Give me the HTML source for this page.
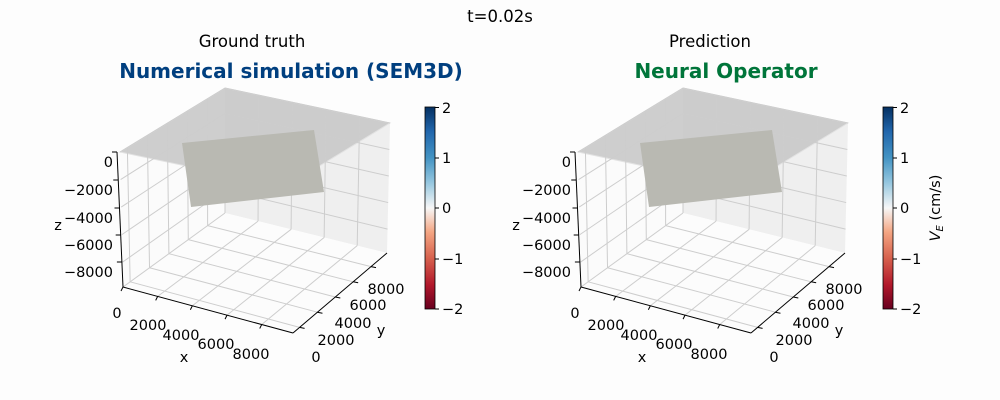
<!DOCTYPE html>
<html><head><meta charset="utf-8"><style>
body{margin:0;background:#fdfdfd;}
svg{display:block;font-family:"DejaVu Sans","Liberation Sans",sans-serif;}
</style></head><body>
<svg id="s" width="1000" height="400" viewBox="0 0 1000 400" xmlns="http://www.w3.org/2000/svg">
<defs>
<linearGradient id="cb" x1="0" y1="0" x2="0" y2="1">
<stop offset="0" stop-color="#053061"/><stop offset="0.12" stop-color="#2166ac"/>
<stop offset="0.25" stop-color="#4393c3"/><stop offset="0.37" stop-color="#92c5de"/>
<stop offset="0.5" stop-color="#f7f7f7"/><stop offset="0.62" stop-color="#f4a582"/>
<stop offset="0.75" stop-color="#d6604d"/><stop offset="0.88" stop-color="#b2182b"/>
<stop offset="1" stop-color="#67001f"/>
</linearGradient>
</defs>
<rect width="1000" height="400" fill="#fdfdfd"/>
<text x="500" y="22" font-size="16.5" text-anchor="middle">t=0.02s</text>
<text x="252" y="47" font-size="16.5" text-anchor="middle">Ground truth</text>
<text x="291" y="78" font-size="20" font-weight="bold" fill="#003f7f" text-anchor="middle">Numerical simulation (SEM3D)</text>
<text x="710" y="47" font-size="16.5" text-anchor="middle">Prediction</text>
<text x="726" y="78" font-size="20" font-weight="bold" fill="#00753a" text-anchor="middle">Neural Operator</text>
<g id="p0"></g>
<g id="p1" transform="translate(458,0)"></g>
<g font-size="14.5">
<rect x="425" y="107" width="10" height="202" fill="url(#cb)" stroke="#000" stroke-width="0.8"/>
<g stroke="#000"><line x1="435" y1="107.5" x2="439" y2="107.5"/><line x1="435" y1="158" x2="439" y2="158"/><line x1="435" y1="208" x2="439" y2="208"/><line x1="435" y1="259" x2="439" y2="259"/><line x1="435" y1="309" x2="439" y2="309"/></g>
<text x="442" y="113">2</text><text x="442" y="163">1</text><text x="442" y="213">0</text><text x="442" y="264">−1</text><text x="442" y="314">−2</text>
<rect x="883" y="107" width="10" height="202" fill="url(#cb)" stroke="#000" stroke-width="0.8"/>
<g stroke="#000"><line x1="893" y1="107.5" x2="897" y2="107.5"/><line x1="893" y1="158" x2="897" y2="158"/><line x1="893" y1="208" x2="897" y2="208"/><line x1="893" y1="259" x2="897" y2="259"/><line x1="893" y1="309" x2="897" y2="309"/></g>
<text x="900" y="113">2</text><text x="900" y="163">1</text><text x="900" y="213">0</text><text x="900" y="264">−1</text><text x="900" y="314">−2</text>
<text transform="translate(940,208) rotate(-90)" text-anchor="middle"><tspan font-style="italic">V</tspan><tspan font-size="10" dy="3" font-style="italic">E</tspan><tspan dy="-3"> (cm/s)</tspan></text>
</g>
</svg>
<script>
var NS="http://www.w3.org/2000/svg";
var T={a:[120,152],x:[285,187],b:[225,88],r:[390,123]},B={a:[123,287],x:[293,333],b:[225,213],r:[387,253]};
function bl(q,u,v){return [0,1].map(function(i){return q.a[i]*(1-u)*(1-v)+q.x[i]*u*(1-v)+q.b[i]*(1-u)*v+q.r[i]*u*v;});}
function P(u,v,w){var t=bl(T,u,v),b=bl(B,u,v);return [t[0]*(1-w)+b[0]*w,t[1]*(1-w)+b[1]*w];}
function el(g,n,at,txt){var e=document.createElementNS(NS,n);for(var k in at)e.setAttribute(k,at[k]);if(txt!=null)e.textContent=txt;g.appendChild(e);return e;}
function poly(g,pts,at){at.points=pts.map(function(p){return p[0].toFixed(1)+","+p[1].toFixed(1);}).join(" ");el(g,"polygon",at);}
function ln(g,p,q,c,w){el(g,"line",{x1:p[0],y1:p[1],x2:q[0],y2:q[1],stroke:c,"stroke-width":w||1});}
var uk=[0,0.204,0.408,0.612,0.816],vk=[0.07,0.26,0.45,0.64,0.83],wk=[0,0.204,0.408,0.612,0.816];
function build(g){
 poly(g,[P(0,0,0),P(0,1,0),P(0,1,1),P(0,0,1)],{fill:"#fbfbfb"});
 poly(g,[P(0,1,0),P(1,1,0),P(1,1,1),P(0,1,1)],{fill:"#efefef"});
 poly(g,[P(0,0,1),P(1,0,1),P(1,1,1),P(0,1,1)],{fill:"#fcfcfc"});
 poly(g,[P(0,0,0),P(1,0,0),P(1,1,0),P(0,1,0)],{fill:"#c6c6c6","fill-opacity":0.85,stroke:"#e2e2e2"});
 var gc="#cdcdcd";
 wk.forEach(function(w){ln(g,P(0,0,w),P(0,1,w),gc);ln(g,P(0,1,w),P(1,1,w),gc);});
 vk.forEach(function(v){ln(g,P(0,v,0),P(0,v,1),gc);ln(g,P(0,v,1),P(1,v,1),gc);});
 uk.forEach(function(u){ln(g,P(u,1,0),P(u,1,1),gc);ln(g,P(u,0,1),P(u,1,1),gc);});
 poly(g,[[182,143],[314,130],[324,192],[191,207]],{fill:"#b9b9b2"});
 ln(g,[117,152],[123,287],"#000");
 var zl=["0","−2000","−4000","−6000","−8000"],zy=[152,180,208,235,262];
 zy.forEach(function(y,i){var x=117+(y-152)*6/135;ln(g,[x-5,y],[x,y],"#000");el(g,"text",{x:113,y:y+15,"font-size":14.5,"text-anchor":"end"},zl[i]);});
 el(g,"text",{x:58,y:230,"font-size":14.5,"text-anchor":"middle"},"z");
 ln(g,[123,287],[293,333],"#000");
 var xl=["0","2000","4000","6000","8000"],xp=[[117,318],[148,330],[181,340],[216,349],[251,359]];
 uk.forEach(function(u,i){var p=[123+170*u,287+46*u];ln(g,p,[p[0]-2,p[1]+4],"#000");el(g,"text",{x:xp[i][0],y:xp[i][1],"font-size":14.5,"text-anchor":"middle"},xl[i]);});
 el(g,"text",{x:184,y:362,"font-size":14.5,"text-anchor":"middle"},"x");
 ln(g,[293,333],[387,253],"#000");
 var yp=[[316,362],[336,345],[353,328],[368,310],[386,294]];
 vk.forEach(function(v,i){var p=[293+94*v,333-80*v];ln(g,p,[p[0]+5,p[1]+1],"#000");el(g,"text",{x:yp[i][0],y:yp[i][1],"font-size":14.5,"text-anchor":"middle"},xl[i]);});
 el(g,"text",{x:381,y:335,"font-size":14.5,"text-anchor":"middle"},"y");
}
build(document.getElementById("p0"));build(document.getElementById("p1"));
</script>
</body></html>
